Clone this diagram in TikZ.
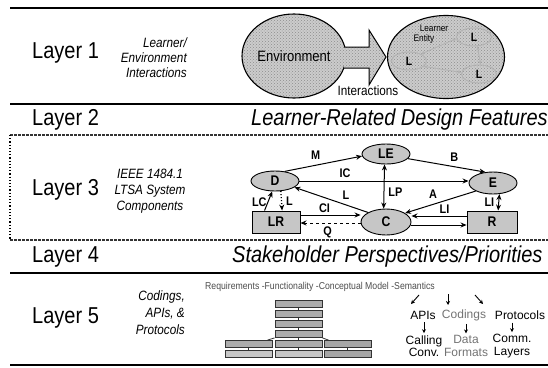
\documentclass[tikz,border=0pt]{standalone}
\usepackage{fontspec}
\setmainfont{Liberation Sans}
\newfontfamily\cond[FakeStretch=0.87]{Liberation Sans}
\usetikzlibrary{patterns,arrows.meta,shapes.geometric}
\begin{document}
\begin{tikzpicture}[x=1pt,y=-1pt,
  every node/.style={inner sep=0pt},
  layertxt/.style={font=\cond\fontsize{23}{26}\selectfont, anchor=west},
  headtxt/.style={font=\cond\itshape\fontsize{23}{26}\selectfont, anchor=west},
  subtxt/.style={font=\cond\itshape\fontsize{13.5}{15}\selectfont},
  hatch/.style={draw=black, line width=1.1pt, preaction={fill=gray!40}, pattern=crosshatch dots, pattern color=gray!90},
  innerL/.style={ellipse, draw=gray!60, line width=0.9pt, minimum width=35pt, minimum height=18pt, font=\cond\bfseries\fontsize{12}{12}\selectfont},
  garrow/.style={{Stealth[length=4pt,width=3.5pt]}-{Stealth[length=4pt,width=3.5pt]}, draw=gray!60, line width=0.8pt},
  ltsaell/.style={ellipse, draw, line width=0.9pt, fill=gray!45, minimum width=48pt, minimum height=20pt, font=\cond\bfseries\fontsize{14}{14}\selectfont},
  ltsabox/.style={rectangle, draw, line width=0.9pt, fill=gray!45, minimum width=48pt, minimum height=22pt, font=\cond\bfseries\fontsize{14}{14}\selectfont},
  flow/.style={-{Stealth[length=6pt,width=5pt]}, line width=1pt},
  biflow/.style={{Stealth[length=6pt,width=5pt]}-{Stealth[length=6pt,width=5pt]}, line width=1pt},
  lbl/.style={font=\cond\bfseries\fontsize{12.5}{12.5}\selectfont},
  rule/.style={line width=1.6pt},
  dashrule/.style={line width=1.2pt, dash pattern=on 3pt off 1pt, draw=black!80},
  smalltxt/.style={font=\cond\fontsize{10}{10}\selectfont, text=black!70},
  l5txt/.style={font=\fontsize{12}{12}\selectfont},
  small/.style={-{Stealth[length=4pt,width=4pt]}, line width=0.9pt},
  stackbox/.style={rectangle, draw=black!80, line width=0.8pt, fill=gray!65, minimum width=47pt, minimum height=7pt},
  stacklight/.style={stackbox, fill=gray!45},
  stacklink/.style={line width=0.8pt, draw=black!80}
]
\useasboundingbox (0,0) rectangle (548,367);

% ---- rules ----
\draw[rule] (10,8) -- (548,8);
\draw[rule] (10,104) -- (548,104);
\draw[dashrule] (10,135) -- (548,135);
\draw[line width=1.2pt, dotted] (10,135) -- (10,240);
\draw[dashrule] (10,240) -- (548,240);
\draw[rule] (10,273) -- (548,273);
\draw[rule] (10,365) -- (548,365);

% ---- layer labels ----
\node[layertxt] (lay1) at (32,53) {Layer 1};
\node[layertxt] (lay2) at (32,120) {Layer 2};
\node[layertxt] (lay3) at (32,190) {Layer 3};
\node[layertxt] (lay4) at (32,257) {Layer 4};
\node[layertxt] (lay5) at (32,318) {Layer 5};

\node[subtxt, align=right, anchor=east] (sub1) at (187,58) {Learner/\\Environment\\Interactions};
\node[subtxt, align=center, font=\cond\itshape\fontsize{13.5}{16}\selectfont] (sub3) at (150,191) {IEEE 1484.1\\LTSA System\\Components};
\node[subtxt, align=right, anchor=east, font=\cond\itshape\fontsize{13.5}{17}\selectfont] (sub5) at (185,313) {Codings,\\APIs, \&\\Protocols};

\node[headtxt] (head2) at (251,120) {Learner-Related Design Features};
\node[headtxt] (head4) at (232,257) {Stakeholder Perspectives/Priorities};

% ---- layer 1 ----
\node[ellipse, hatch, minimum width=104pt, minimum height=84pt, font=\cond\fontsize{15}{15}\selectfont] (env) at (294,56) {Environment};
\path[preaction={fill=gray!40}, pattern=crosshatch dots, pattern color=gray!90]
  (344,47) -- (369,47) -- (369,30) -- (386,57) -- (369,85) -- (369,68) -- (344,68) -- cycle;
\draw[line width=1pt, line join=miter] (344,47) -- (369,47) -- (369,30) -- (386,57) -- (369,85) -- (369,68) -- (344,68);
\node[font=\cond\fontsize{13.5}{13.5}\selectfont] (inter) at (368,91) {Interactions};
\node[ellipse, hatch, minimum width=117pt, minimum height=83pt] (ent) at (446,57) {};
\node[font=\cond\fontsize{9.5}{9.5}\selectfont] (entl1) at (434,28) {Learner};
\node[font=\cond\fontsize{9.5}{9.5}\selectfont] (entl2) at (424,39) {Entity};
\node[innerL] (L1) at (409,61) {L};
\node[innerL] (L2) at (474,37) {L};
\node[innerL] (L3) at (479,74) {L};
\draw[garrow] (L1.30) -- (L2.185);
\draw[garrow] (L2.-70) -- (L3.80);
\draw[garrow] (L1.-20) -- (L3.175);

% ---- layer 3 ----
\node[ltsaell] (D) at (275,181) {D};
\node[ltsaell] (LE) at (386,154) {LE};
\node[ltsaell, minimum height=22pt] (E) at (493,183) {E};
\node[ltsaell, minimum width=50pt, minimum height=26pt] (C) at (386,222) {C};
\node[ltsabox] (LR) at (276,222) {LR};
\node[ltsabox, minimum width=50pt] (R) at (492,222) {R};

\draw[flow] (D.45) -- (LE.185) node[lbl, pos=0.4, above=5pt] (lM) {M};
\draw[flow] (D.east) -- (D.east -| E.west) node[lbl, pos=0.27, above=3pt] (lIC) {IC};
\draw[flow] (LE.-12) -- (E.125) node[lbl, pos=0.6, above=5pt] (lB) {B};
\draw[flow] (E.205) -- (C.25) node[lbl, pos=0.5, above left=3pt] (lA) {A};
\draw[flow] (C.152) -- (D.-18) node[lbl, pos=0.3, above=5pt] (lL) {L};
\draw[biflow] (LE.-98) -- (C.100) node[lbl, pos=0.62, right=4pt] (lLP) {LP};
\draw[flow] (LR.135) -- (D.-105) node[lbl, pos=0.45, left=1pt] (lLC) {LC};
\draw[flow, dotted, line width=1.3pt] (D.-60) -- (LR.62) node[lbl, pos=0.5, right=4pt] (lL2) {L};
\draw[flow] (LR.east |- 0,215) coordinate (ci1) -- (ci1 -| C.west) node[lbl, pos=0.4, above=2pt] (lCI) {CI};
\draw[flow, dashed] (C.west |- 0,223) coordinate (q1) -- (q1 -| LR.east) node[lbl, pos=0.55, below=3pt] (lQ) {Q};
\draw[flow] (R.west |- 0,216) coordinate (li1) -- (li1 -| C.east) node[lbl, pos=0.4, above=2pt] (lLI) {LI};
\draw[flow] (C.east |- 0,225) coordinate (li2) -- (li2 -| R.west);
\draw[biflow] (E.-60) -- (R.62) node[lbl, pos=0.5, left=4pt] (lLI2) {LI};

% ---- layer 5 ----
\node[smalltxt, anchor=west] (req) at (205,287) {Requirements -Functionality -Conceptual Model -Semantics};

\node[stackbox] (s1) at (298.5,304) {};
\node[stackbox] (s2) at (298.5,314) {};
\node[stackbox] (s3) at (298.5,324) {};
\node[stackbox] (s4) at (298.5,334) {};
\node[stackbox] (m1) at (298.5,344) {};
\node[stacklight] (m2) at (298.5,354) {};
\node[stackbox] (a1) at (248.5,344) {};
\node[stacklight] (a2) at (248.5,354) {};
\node[stackbox, fill=gray!70] (b1) at (347.5,344) {};
\node[stackbox, fill=gray!70] (b2) at (347.5,354) {};
\draw[stacklink] (s1) -- (s2);
\draw[stacklink] (s2) -- (s3);
\draw[stacklink] (s3) -- (s4);
\draw[stacklink] (s4) -- (m1);
\draw[stacklink] (m1) -- (m2);
\draw[stacklink] (a1) -- (a2);
\draw[stacklink] (b1) -- (b2);
\draw[stacklink] (s4.south west) -- ([xshift=-5pt]a1.north east);
\draw[stacklink] (s4.south east) -- ([xshift=5pt]b1.north west);

\node[l5txt] (apis) at (423,315) {APIs};
\node[l5txt, text=black!55] (cod) at (464,315) {Codings};
\node[l5txt] (prot) at (520,315) {Protocols};
\node[l5txt, align=center, font=\fontsize{12}{12.5}\selectfont] (call) at (424,346) {Calling\\Conv.};
\node[l5txt, align=center, text=black!55, font=\fontsize{12}{12.5}\selectfont] (data) at (466,346) {Data\\Formats};
\node[l5txt, align=center, font=\fontsize{12}{12.5}\selectfont] (comm) at (512,346) {Comm.\\Layers};

\coordinate (t1a) at (419,295); \coordinate (t1b) at (411,304);
\coordinate (t2a) at (448,294); \coordinate (t2b) at (448,305);
\coordinate (t3a) at (475,295); \coordinate (t3b) at (483,304);
\draw[small] (t1a) -- (t1b);
\draw[small] (t2a) -- (t2b);
\draw[small] (t3a) -- (t3b);
\draw[small, shorten <=3pt, shorten >=2pt] (apis.south -| call.north) -- (call.north);
\draw[small, shorten <=3pt, shorten >=2pt] (cod.south -| data.north) -- (data.north);
\draw[small, shorten <=3pt, shorten >=2pt] (prot.south -| comm.north) -- (comm.north);
\end{tikzpicture}
\end{document}
